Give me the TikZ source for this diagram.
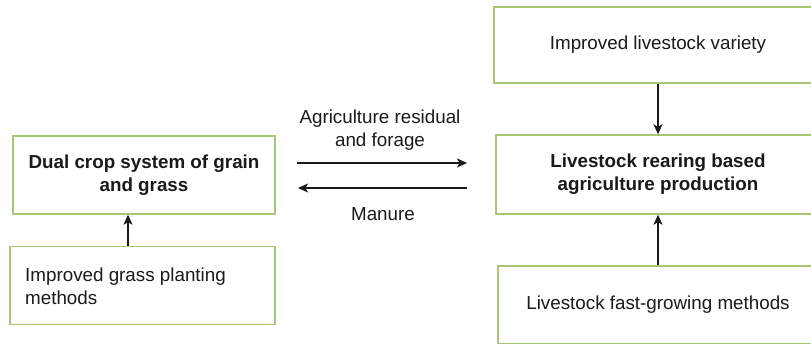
\documentclass[tikz,border=0pt]{standalone}
\usepackage{fontspec}
\setmainfont{Liberation Sans}
\usetikzlibrary{arrows.meta}
\definecolor{boxgreen}{RGB}{170,196,120}
\definecolor{txt}{RGB}{26,26,26}
\begin{document}
\begin{tikzpicture}[x=1pt,y=-1pt,
  box/.style={draw=boxgreen,line width=1.4pt,fill=white,inner sep=0pt,align=center,text=txt,
    font=\fontsize{18.8}{23}\selectfont},
  lbl/.style={inner sep=0pt,align=center,text=txt,font=\fontsize{18.8}{23}\selectfont},
  arr/.style={draw=txt,line width=1.2pt,-{Stealth[length=10pt,width=9pt,inset=2.5pt]}}]
\useasboundingbox (0,0) rectangle (811,344);
\clip (0,0) rectangle (811,344);
\node[box,minimum width=262pt,minimum height=78pt] (L1) at (144,175) {\bfseries Dual crop system of grain\\\bfseries and grass};
\node[box,minimum width=265pt,minimum height=78pt] (L2) at (142.5,285.5) {};
\node[lbl,anchor=west,align=left] (L2t) at (25,286) {Improved grass planting\\methods};
\node[box,minimum width=328pt,minimum height=76pt] (TR) at (658,45) {Improved livestock variety};
\node[box,minimum width=324pt,minimum height=79pt] (MR) at (658,174.5) {\bfseries Livestock rearing based\\\bfseries agriculture production};
\node[box,minimum width=320pt,minimum height=78pt] (BR) at (658,305) {Livestock fast-growing methods};
\coordinate (ax) at (128,0);
\draw[arr] (ax |- L2.north) -- (ax |- L1.south);
\draw[arr] (TR.south) -- (MR.north);
\draw[arr] (BR.north) -- (MR.south);
\coordinate (h1s) at (297,163);
\coordinate (h1e) at (467,163);
\coordinate (h2s) at (467,188);
\coordinate (h2e) at (298,188);
\draw[arr] (h1s) -- (h1e);
\draw[arr] (h2s) -- (h2e);
\node[lbl] (ag) at (380,130) {Agriculture residual\\and forage};
\node[lbl] (mn) at (383,214) {Manure};
\end{tikzpicture}
\end{document}
